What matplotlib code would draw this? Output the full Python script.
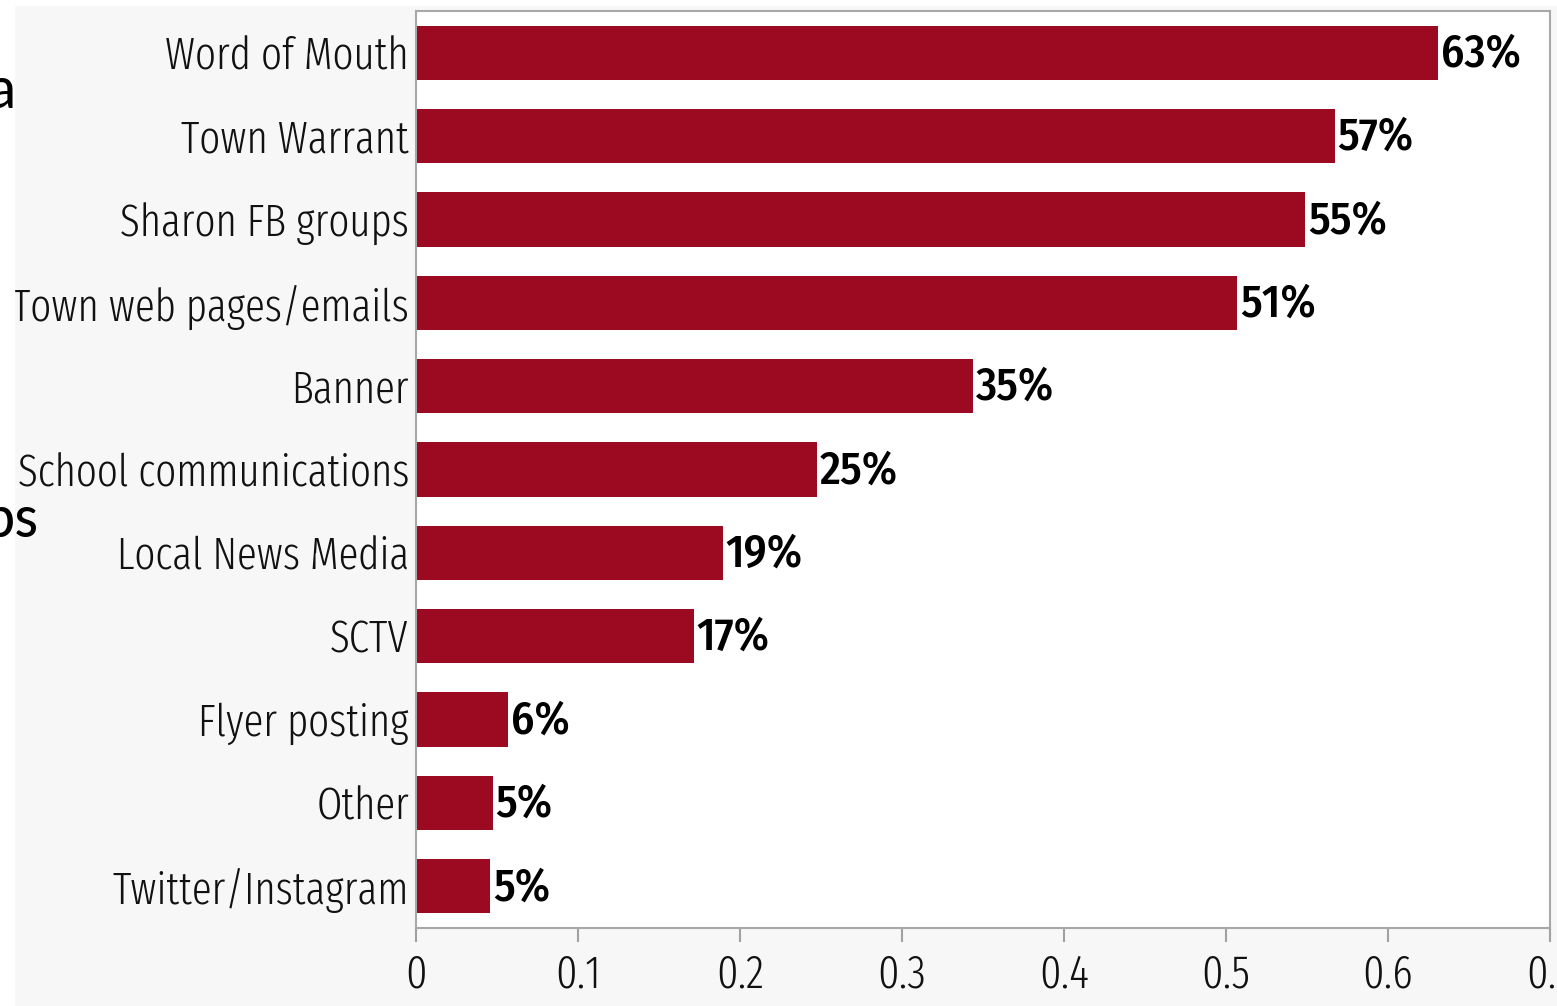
import matplotlib.pyplot as plt
from matplotlib.patches import Rectangle

# --- data ---
categories = ['Word of Mouth', 'Town Warrant', 'Sharon FB groups', 'Town web pages/emails',
              'Banner', 'School communications', 'Local News Media', 'SCTV',
              'Flyer posting', 'Other', 'Twitter/Instagram']
shares = [0.631, 0.567, 0.549, 0.507, 0.344, 0.2475, 0.1895, 0.1715, 0.057, 0.0475, 0.0457]
share_labels = ['63%', '57%', '55%', '51%', '35%', '25%', '19%', '17%', '6%', '5%', '5%']
xticks = [0, 0.1, 0.2, 0.3, 0.4, 0.5, 0.6, 0.7]
xticklabels = ['0', '0.1', '0.2', '0.3', '0.4', '0.5', '0.6', '0.7']

narrow = ['Fira Sans Extra Condensed', 'DejaVu Sans']
semi = ['Fira Sans Condensed', 'DejaVu Sans']
slide = ['Carlito', 'Open Sans', 'DejaVu Sans']

fig = plt.figure(figsize=(15.57, 10.06), dpi=100, facecolor='#f7f7f7')
# white slide strips at left and top
fig.patches.append(Rectangle((0, 0), 14 / 1557, 1, transform=fig.transFigure, color='white', zorder=0))
fig.patches.append(Rectangle((0, 1 - 5 / 1006), 1, 5 / 1006, transform=fig.transFigure, color='white', zorder=0))

# cropped slide text fragments
fig.text(16 / 1557, 1 - 108 / 1006, 'a', fontsize=44, family=slide, color='black',
         ha='right', va='baseline')
fig.text(39 / 1557, 1 - 537 / 1006, 'ps', fontsize=44, family=slide, color='black',
         ha='right', va='baseline')

ax = fig.add_axes([416 / 1557, 78 / 1006, 1134 / 1557, 917 / 1006])
ax.set_facecolor('white')

y = range(len(categories))
ax.barh(y, shares, height=0.65, color='#9c0a22')
for yi, v, lab in zip(y, shares, share_labels):
    ax.annotate(lab, (v, yi), xytext=(2, -1), textcoords='offset points',
                va='center', ha='left', fontsize=33, fontweight=500,
                family=semi, color='black')

ax.set_xlim(0, 0.7)
ax.set_ylim(len(categories) - 0.5, -0.5)
ax.set_yticks(list(y))
ax.set_yticklabels(categories, family=narrow, fontsize=32, fontweight=300, color='#111111')
ax.set_xticks(xticks)
ax.set_xticklabels(xticklabels, family=narrow, fontsize=33, fontweight=300, color='#111111')
ax.tick_params(axis='y', length=0, pad=5)
ax.tick_params(axis='x', length=10, width=1.5, color='#a0a0a0', pad=8)
for s in ax.spines.values():
    s.set_color('#a8a8a8')
    s.set_linewidth(1.5)

fig.savefig('out.png', dpi=100, facecolor=fig.get_facecolor())
